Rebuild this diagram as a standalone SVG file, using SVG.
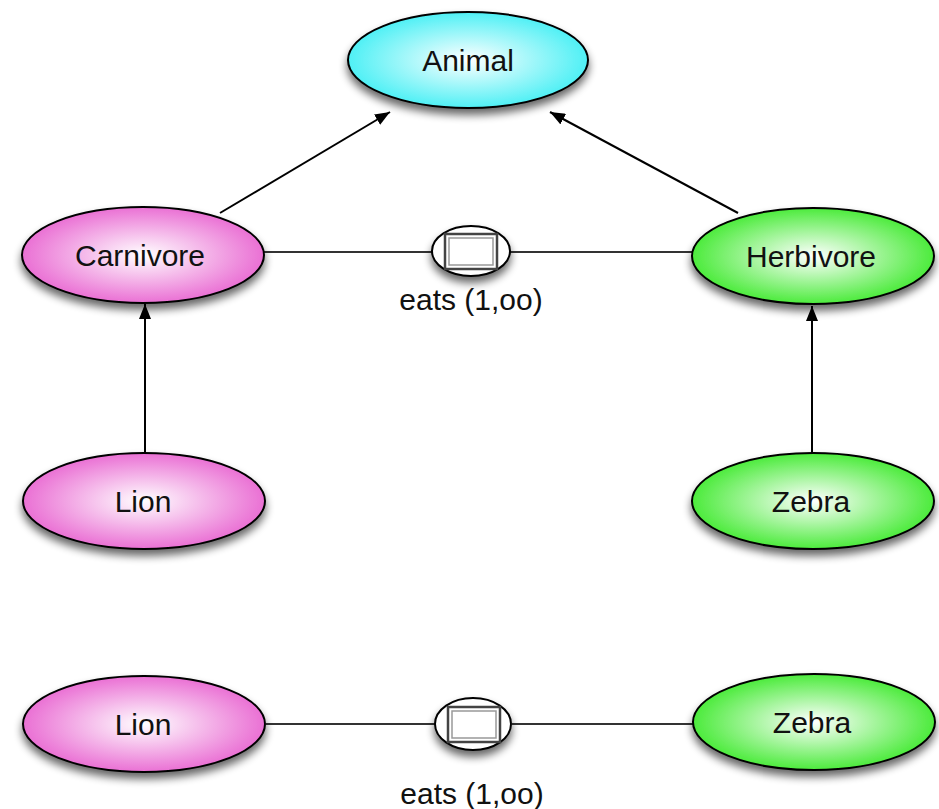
<svg xmlns="http://www.w3.org/2000/svg" width="939" height="809" viewBox="0 0 939 809">
<defs>
<radialGradient id="gc" cx="0.5" cy="0.5" r="0.5"><stop offset="0" stop-color="#ffffff"/><stop offset="1" stop-color="#4ff0f5"/></radialGradient>
<radialGradient id="gp" cx="0.5" cy="0.5" r="0.5"><stop offset="0" stop-color="#ffffff"/><stop offset="1" stop-color="#ea70d4"/></radialGradient>
<radialGradient id="gg" cx="0.5" cy="0.5" r="0.5"><stop offset="0" stop-color="#ffffff"/><stop offset="1" stop-color="#4ceb3c"/></radialGradient>
<filter id="sh" x="-20%" y="-20%" width="140%" height="160%"><feGaussianBlur in="SourceAlpha" stdDeviation="4"/><feOffset dx="0" dy="6" result="b"/><feComponentTransfer><feFuncA type="linear" slope="0.6"/></feComponentTransfer><feMerge><feMergeNode/><feMergeNode in="SourceGraphic"/></feMerge></filter>
<marker id="ar" viewBox="0 0 10 10" refX="10" refY="5" markerWidth="15" markerHeight="12" markerUnits="userSpaceOnUse" orient="auto" preserveAspectRatio="none"><path d="M0,0 L10,5 L0,10 z" fill="#000"/></marker>
</defs>
<style>
.n{stroke:#000;stroke-width:2}
.t{font-family:"Liberation Sans",Arial,sans-serif;font-size:30px;fill:#111;text-anchor:middle}
.c{stroke:#000;stroke-width:2;fill:none}
.l{stroke:#333;stroke-width:2;fill:none}
</style>
<rect width="939" height="809" fill="#fff"/>
<g id="connectors">
<line class="c" x1="220" y1="213" x2="390" y2="112" marker-end="url(#ar)"/>
<line class="c" x1="738" y1="213" x2="550" y2="112" marker-end="url(#ar)"/>
<line class="c" x1="145" y1="453" x2="145" y2="304" marker-end="url(#ar)"/>
<line class="c" x1="812" y1="453" x2="812" y2="306" marker-end="url(#ar)"/>
<line class="l" x1="264" y1="252" x2="432" y2="252"/>
<line class="l" x1="510" y1="252" x2="692" y2="252"/>
<line class="l" x1="266" y1="724" x2="435" y2="724"/>
<line class="l" x1="512" y1="724" x2="694" y2="724"/>
</g>
<g id="animal"><ellipse class="n" cx="468" cy="60" rx="120" ry="48" fill="url(#gc)" filter="url(#sh)"/><text class="t" x="468" y="71">Animal</text></g>
<g id="carnivore"><ellipse class="n" cx="143" cy="255" rx="121" ry="48" fill="url(#gp)" filter="url(#sh)"/><text class="t" x="140" y="266">Carnivore</text></g>
<g id="herbivore"><ellipse class="n" cx="813" cy="256" rx="121" ry="48" fill="url(#gg)" filter="url(#sh)"/><text class="t" x="811" y="267">Herbivore</text></g>
<g id="lion1"><ellipse class="n" cx="144" cy="501" rx="121" ry="48" fill="url(#gp)" filter="url(#sh)"/><text class="t" x="143" y="512">Lion</text></g>
<g id="zebra1"><ellipse class="n" cx="813" cy="501" rx="121" ry="48" fill="url(#gg)" filter="url(#sh)"/><text class="t" x="811" y="512">Zebra</text></g>
<g id="lion2"><ellipse class="n" cx="144" cy="724" rx="121" ry="48" fill="url(#gp)" filter="url(#sh)"/><text class="t" x="143" y="735">Lion</text></g>
<g id="zebra2"><ellipse class="n" cx="814" cy="722" rx="121" ry="48" fill="url(#gg)" filter="url(#sh)"/><text class="t" x="812" y="733">Zebra</text></g>
<g id="eats1">
<ellipse class="n" cx="471" cy="251" rx="39" ry="25" fill="#fff" filter="url(#sh)"/>
<rect x="445" y="234" width="52" height="35" fill="#fff" stroke="#444" stroke-width="2.5"/>
<rect x="449" y="238" width="44" height="27" fill="none" stroke="#999" stroke-width="1.5"/>
<text class="t" x="471" y="310">eats (1,oo)</text>
</g>
<g id="eats2">
<ellipse class="n" cx="473" cy="724" rx="38" ry="26" fill="#fff" filter="url(#sh)"/>
<rect x="448" y="707" width="52" height="35" fill="#fff" stroke="#444" stroke-width="2.5"/>
<rect x="452" y="711" width="44" height="27" fill="none" stroke="#999" stroke-width="1.5"/>
<text class="t" x="472" y="804">eats (1,oo)</text>
</g>
</svg>
